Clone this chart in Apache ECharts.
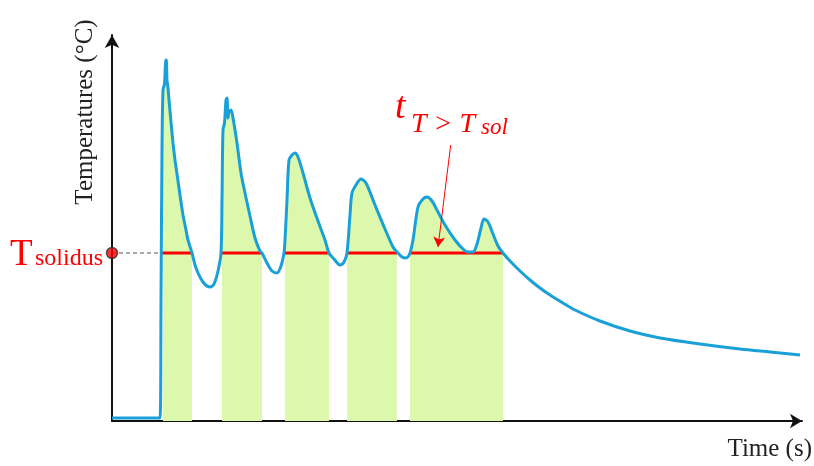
<!DOCTYPE html>
<html>
<head>
<meta charset="utf-8">
<script src="https://cdn.jsdelivr.net/npm/echarts@6/dist/echarts.min.js"></script>
<style>html,body{margin:0;padding:0;background:#fff}#c{width:814px;height:466px}</style>
</head>
<body>
<div id="c"></div>
<script>
// Schematic: time (arbitrary units) vs temperature (arbitrary units)
const curveTime = [0,48,49,50,51,52.5,53.5,54.3,55,56,57,59,61,63,65,68,71,74,76,80,84,91,98,102,106,109,110,111,112.5,114,115,116,117,119,121,125,129,133,138,143,148,150,155,160,165,169,172,173,175,177,180,183,186,191,198,206,213,217,222,228,232,235,238,240,244,249,254,263,273,281,285,290,294,298,301,306,311,315,320,326,333,343,351,356,361,365,369,372,376,381,386,391,398,408,418,428,438,451,463,488,518,548,588,628,658,688];
const curveTemp = [3,3,121,271,331,337,358,361,341,333,321,299,278,261,247,226,206,191,181,168,153,139,134,137,150,168,221,291,298,321,323,303,309,311,303,278,248,228,205,183,170,168,158,150,148,155,168,181,221,261,266,268,264,248,223,200,181,168,162,156,159,168,206,228,236,242,238,216,192,174,169,164,163,168,181,214,222,224,220,209,196,181,172,169,169,177,193,202,199,187,175,168,160,150,141,133,126,118,111,100,90,83,77,72,69,66];
const solidusTemp = 168;
const aboveSolidusStart = [51,110,173,235,298];
const aboveSolidusEnd   = [80,150,217,285,391];
const solidusLineStart  = [49,109,173,235,298];
const arrowFrom = [338.7,276];
const arrowTo = [326,174];

const curve = curveTime.map((t,i)=>[t,curveTemp[i]]);
const fillData = [];
aboveSolidusStart.forEach((s,k)=>{
  const e = aboveSolidusEnd[k];
  curve.forEach(p=>{ if(p[0]>=s && p[0]<=e) fillData.push(p); });
  fillData.push([null,null]);
});
const solData = [];
solidusLineStart.forEach((s,k)=>{
  solData.push([s,solidusTemp],[aboveSolidusEnd[k],solidusTemp],[null,null]);
});

const SMOOTH = 0.3;
const chart = echarts.init(document.getElementById('c'));
chart.setOption({
  animation:false,
  grid:{left:112,right:12,top:35,bottom:45},
  xAxis:{type:'value',min:0,max:690,
    axisLine:{lineStyle:{color:'#111',width:2},symbol:['none','arrow'],symbolSize:[11,12]},
    axisTick:{show:false},axisLabel:{show:false},splitLine:{show:false}},
  yAxis:{type:'value',min:0,max:386,
    axisLine:{show:true,onZero:false,lineStyle:{color:'#111',width:2},symbol:['none','arrow'],symbolSize:[11,13]},
    axisTick:{show:false},axisLabel:{show:false},splitLine:{show:false}},
  series:[
    {type:'line',data:fillData,smooth:SMOOTH,showSymbol:false,connectNulls:false,
     lineStyle:{width:0},areaStyle:{color:'#dbf8ac',opacity:1},z:1,silent:true},
    {type:'line',data:solData,showSymbol:false,connectNulls:false,
     lineStyle:{color:'#ff0000',width:3},z:3,silent:true},
    {type:'line',data:[[0,solidusTemp],[solidusLineStart[0],solidusTemp]],showSymbol:false,
     lineStyle:{color:'#555',width:1,type:[4,3]},z:2,silent:true},
    {type:'line',data:curve,smooth:SMOOTH,showSymbol:false,
     lineStyle:{color:'#1aa0d8',width:3},z:4,silent:true,
     markLine:{silent:true,symbol:['none','arrow'],symbolSize:[9,10],
       lineStyle:{color:'#ff0000',width:1,type:'solid'},label:{show:false},
       data:[[{coord:arrowFrom},{coord:arrowTo}]]}},
    {type:'scatter',data:[[0,solidusTemp]],symbolSize:11,
     itemStyle:{color:'#ff0000',borderColor:'#333',borderWidth:1.5},z:6,silent:true}
  ],
  graphic:[
    {type:'text',x:85,y:112,rotation:Math.PI/2,style:{text:'Temperatures (°C)',font:'25px "Liberation Serif"',fill:'#222',align:'center',verticalAlign:'middle'}},
    {type:'text',x:812,y:462,style:{text:'Time (s)',font:'25px "Liberation Serif"',fill:'#222',align:'right',verticalAlign:'bottom'}},
    {type:'text',x:10,y:274,style:{text:'T',font:'37px "Liberation Serif"',fill:'#ff0000',align:'left',verticalAlign:'bottom'}},
    {type:'text',x:35,y:271,style:{text:'solidus',font:'24px "Liberation Serif"',fill:'#ff0000',align:'left',verticalAlign:'bottom'}},
    {type:'text',x:395,y:127,style:{text:'t',font:'italic 38px "Liberation Serif"',fill:'#ff0000',align:'left',verticalAlign:'bottom'}},
    {type:'text',x:411,y:139,style:{text:'T > T',font:'italic 28px "Liberation Serif"',fill:'#ff0000',align:'left',verticalAlign:'bottom'}},
    {type:'text',x:481,y:139,style:{text:'sol',font:'italic 23px "Liberation Serif"',fill:'#ff0000',align:'left',verticalAlign:'bottom'}}
  ]
});
</script>
</body>
</html>
